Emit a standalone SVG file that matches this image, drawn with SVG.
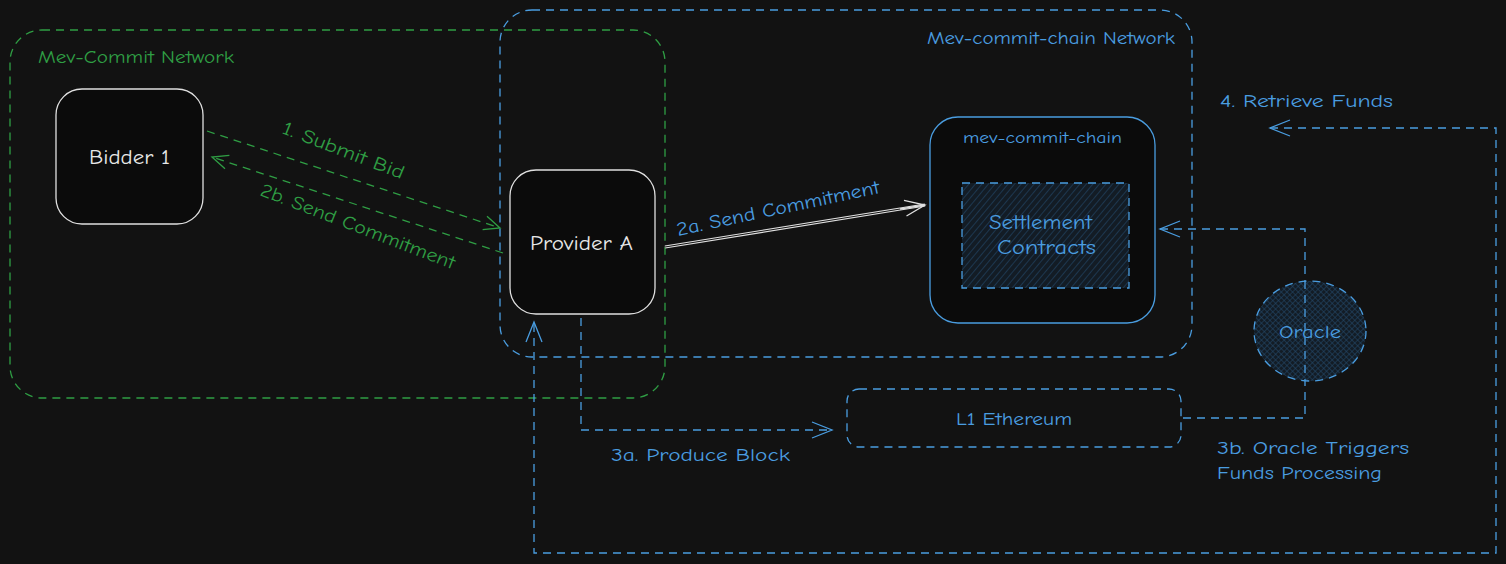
<svg xmlns="http://www.w3.org/2000/svg" width="1506" height="564" viewBox="0 0 1506 564">
<defs>
<style>
.green{stroke:#2f9e44;fill:none;stroke-width:1.3;stroke-dasharray:8 6}
.blue{stroke:#4a9de0;fill:none;stroke-width:1.3;stroke-dasharray:8 6}
.node{stroke:#e0e0e0;fill:#0b0b0b;stroke-width:1.3}
.t{font-family:"Comic Neue","Liberation Sans",sans-serif}
.tg{fill:#2f9e44}
.tb{fill:#4a9de0}
.tw{fill:#e8e8e8}
</style>
<pattern id="hatch" patternUnits="userSpaceOnUse" width="5" height="5" patternTransform="rotate(40)">
<rect width="5" height="5" fill="#131c25"/>
<line x1="0" y1="0" x2="0" y2="5" stroke="#23496b" stroke-width="1.2"/>
</pattern>
<pattern id="cross" patternUnits="userSpaceOnUse" width="4" height="4" patternTransform="rotate(45)">
<rect width="4" height="4" fill="#131c25"/>
<line x1="0" y1="0" x2="0" y2="4" stroke="#23496b" stroke-width="1.1"/>
<line x1="0" y1="0" x2="4" y2="0" stroke="#23496b" stroke-width="1.1"/>
</pattern>
<marker id="ag" viewBox="0 0 20 20" refX="18" refY="10" markerWidth="20" markerHeight="20" markerUnits="userSpaceOnUse" orient="auto-start-reverse">
<path d="M2 3 L18 10 L2 17" fill="none" stroke="#2f9e44" stroke-width="1.3"/>
</marker>
<marker id="ab" viewBox="0 0 24 24" refX="22" refY="12" markerWidth="24" markerHeight="24" markerUnits="userSpaceOnUse" orient="auto-start-reverse">
<path d="M2 4 L22 12 L2 20" fill="none" stroke="#4a9de0" stroke-width="1.3"/>
</marker>
<marker id="aw" viewBox="0 0 24 24" refX="22" refY="12" markerWidth="24" markerHeight="24" markerUnits="userSpaceOnUse" orient="auto">
<path d="M2 4 L22 12 L2 20" fill="none" stroke="#e0e0e0" stroke-width="1.3"/>
</marker>
</defs>
<rect width="1506" height="564" fill="#121212"/>

<g id="mev-commit-network">
<rect class="green" x="10" y="30" width="655" height="368" rx="32"/>
<text class="t tg" x="38" y="63" font-size="19" textLength="196" lengthAdjust="spacingAndGlyphs">Mev-Commit Network</text>
</g>
<g id="mev-commit-chain-network">
<rect class="blue" x="500" y="10" width="692" height="347" rx="32"/>
<text class="t tb" x="927" y="44" font-size="19" textLength="248" lengthAdjust="spacingAndGlyphs">Mev-commit-chain Network</text>
</g>

<g id="connectors">
<line class="green" x1="207" y1="131" x2="500" y2="228" marker-end="url(#ag)"/>
<line class="green" x1="503" y1="253" x2="212" y2="157" marker-end="url(#ag)"/>
<line x1="665" y1="247" x2="925" y2="205" stroke="#e0e0e0" stroke-width="3.2"/>
<line x1="665" y1="247" x2="925" y2="205" stroke="#121212" stroke-width="1"/>
<line x1="900" y1="209" x2="925" y2="205" stroke="#e0e0e0" stroke-width="1.3" marker-end="url(#aw)"/>
<path class="blue" d="M581 318 L581 430 L832 430" marker-end="url(#ab)"/>
<path class="blue" d="M1183 418 L1305 418 L1305 229 L1160 229" marker-end="url(#ab)"/>
<path class="blue" d="M1270 128 L1496 128 L1496 553 L534 553 L534 322" marker-start="url(#ab)" marker-end="url(#ab)"/>
<text class="t tg" font-size="19" transform="translate(281 133) rotate(21)" textLength="129" lengthAdjust="spacingAndGlyphs">1. Submit Bid</text>
<text class="t tg" font-size="19" transform="translate(259 195) rotate(21)" textLength="207" lengthAdjust="spacingAndGlyphs">2b. Send Commitment</text>
<text class="t tb" font-size="19" transform="translate(678 236) rotate(-12)" textLength="207" lengthAdjust="spacingAndGlyphs">2a. Send Commitment</text>
<text class="t tb" x="611" y="461" font-size="19" textLength="179" lengthAdjust="spacingAndGlyphs">3a. Produce Block</text>
<text class="t tb" x="1217" y="454" font-size="19" textLength="192" lengthAdjust="spacingAndGlyphs">3b. Oracle Triggers</text>
<text class="t tb" x="1217" y="479" font-size="19" textLength="165" lengthAdjust="spacingAndGlyphs">Funds Processing</text>
<text class="t tb" x="1220" y="107" font-size="19" textLength="173" lengthAdjust="spacingAndGlyphs">4. Retrieve Funds</text>
</g>

<g id="bidder-1">
<rect class="node" x="56" y="89" width="147" height="135" rx="26"/>
<text class="t tw" x="89" y="164" font-size="20" textLength="81" lengthAdjust="spacingAndGlyphs">Bidder 1</text>
</g>
<g id="provider-a">
<rect class="node" x="510" y="170" width="145" height="144" rx="26"/>
<text class="t tw" x="530" y="250" font-size="20" textLength="103" lengthAdjust="spacingAndGlyphs">Provider A</text>
</g>
<g id="mev-commit-chain">
<rect x="930" y="117" width="225" height="206" rx="28" fill="#0b0b0b" stroke="#4a9de0" stroke-width="1.3"/>
<text class="t tb" x="963" y="143" font-size="16" textLength="159" lengthAdjust="spacingAndGlyphs">mev-commit-chain</text>
</g>
<g id="settlement-contracts">
<rect x="962" y="183" width="167" height="105" fill="url(#hatch)" stroke="#4a9de0" stroke-width="1.3" stroke-dasharray="8 6"/>
<text class="t tb" x="989" y="229" font-size="20" textLength="103" lengthAdjust="spacingAndGlyphs">Settlement</text>
<text class="t tb" x="997" y="254" font-size="20" textLength="99" lengthAdjust="spacingAndGlyphs">Contracts</text>
</g>
<g id="oracle">
<ellipse cx="1310" cy="331" rx="56" ry="50" fill="url(#cross)" stroke="#4a9de0" stroke-width="1.3" stroke-dasharray="8 6"/>
<line class="blue" x1="1305" y1="281" x2="1305" y2="381"/>
<text class="t tb" x="1279" y="338" font-size="19" textLength="62" lengthAdjust="spacingAndGlyphs">Oracle</text>
</g>
<g id="l1-ethereum">
<rect class="blue" x="847" y="389" width="334" height="58" rx="12"/>
<text class="t tb" x="956" y="425" font-size="19" textLength="116" lengthAdjust="spacingAndGlyphs">L1 Ethereum</text>
</g>
</svg>
